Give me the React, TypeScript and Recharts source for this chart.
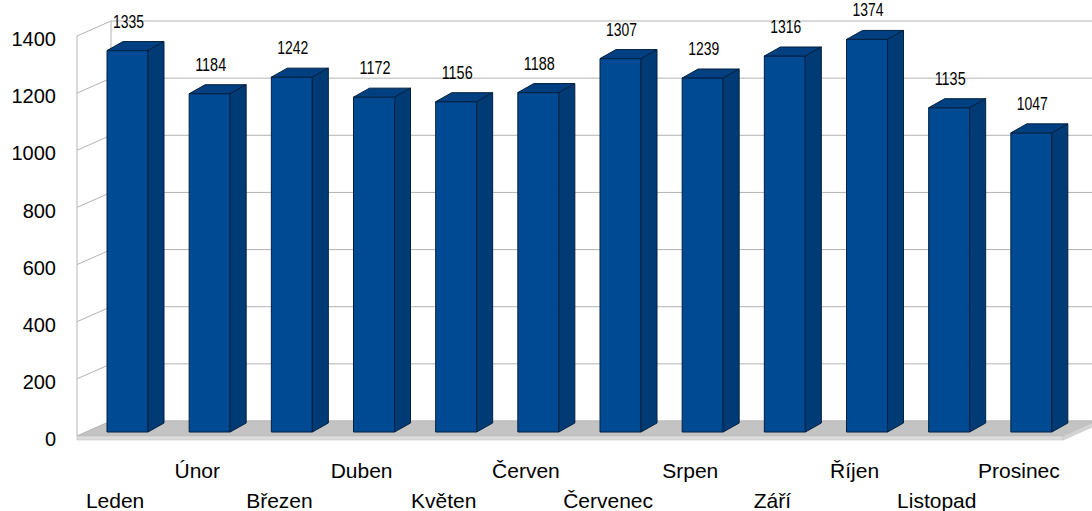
import { BarChart, Bar, XAxis, YAxis, CartesianGrid, LabelList, ReferenceArea } from "recharts"

const months = [
  "Leden",
  "Únor",
  "Březen",
  "Duben",
  "Květen",
  "Červen",
  "Červenec",
  "Srpen",
  "Září",
  "Říjen",
  "Listopad",
  "Prosinec",
]
const values = [1335, 1184, 1242, 1172, 1156, 1188, 1307, 1239, 1316, 1374, 1135, 1047]
const yTicks = [0, 200, 400, 600, 800, 1000, 1200, 1400]

const data = months.map((month, i) => ({ month, value: values[i] }))

const FONT = "'Liberation Sans', Arial, sans-serif"
// depth of the walls and of each bar (3D look)
const WALL = { dx: 34, dy: -15 }
const BAR = { dx: 16, dy: -9, shiftX: 9, shiftY: -4 }

function GridLine(props: any) {
  const { x1, x2, y1 } = props
  const bx = x1 + WALL.dx
  const by = y1 + WALL.dy
  return (
    <g key={props.key}>
      <line x1={x1} y1={y1} x2={bx} y2={by} stroke="#b3b3b3" strokeWidth={1} />
      <line x1={bx} y1={by} x2={x2 + WALL.dx + 40} y2={by} stroke="#b3b3b3" strokeWidth={1} />
    </g>
  )
}

function Walls(props: any) {
  const { x, y, width, height } = props
  const b = y + height
  const r = x + width
  return (
    <g>
      <line x1={x} y1={y} x2={x} y2={b} stroke="#b3b3b3" />
      <line x1={x + WALL.dx} y1={y + WALL.dy} x2={x + WALL.dx} y2={b + WALL.dy} stroke="#b3b3b3" />
      <polygon
        points={`${x},${b} ${x + WALL.dx},${b + WALL.dy} ${r + WALL.dx},${b + WALL.dy} ${r},${b}`}
        fill="#c3c3c3"
        stroke="#b0b0b0"
        strokeWidth={0.6}
      />
      <polygon
        points={`${x},${b} ${r},${b} ${r},${b + 4} ${x},${b + 4}`}
        fill="#dcdcdc"
        stroke="#c4c4c4"
        strokeWidth={0.6}
      />
      <polygon
        points={`${r},${b} ${r + WALL.dx},${b + WALL.dy} ${r + WALL.dx},${b + WALL.dy + 4} ${r},${b + 4}`}
        fill="#d4d4d4"
        stroke="#c4c4c4"
        strokeWidth={0.6}
      />
    </g>
  )
}

function Bar3D(props: any) {
  const { x, y, width, height } = props
  const fx = x + BAR.shiftX
  const fy = y + BAR.shiftY
  const bottom = y + height + BAR.shiftY
  const { dx, dy } = BAR
  return (
    <g stroke="#00203f" strokeWidth={1} strokeLinejoin="round">
      <rect x={fx} y={fy} width={width} height={bottom - fy} fill="#004a93" />
      <polygon
        points={`${fx},${fy} ${fx + dx},${fy + dy} ${fx + width + dx},${fy + dy} ${fx + width},${fy}`}
        fill="#003f80"
      />
      <polygon
        points={`${fx + width},${fy} ${fx + width + dx},${fy + dy} ${fx + width + dx},${bottom + dy} ${fx + width},${bottom}`}
        fill="#003b76"
      />
    </g>
  )
}

function ValueLabel(props: any) {
  const { x, y, width, value } = props
  return (
    <text
      x={x + BAR.shiftX + width / 2 + 1}
      y={y - 27}
      textAnchor="middle"
      fontFamily={FONT}
      fontSize={18}
      textLength={31}
      lengthAdjust="spacingAndGlyphs"
      fill="#000"
    >
      {value}
    </text>
  )
}

function MonthTick(props: any) {
  const { x, y, payload, index } = props
  const upper = index % 2 === 1
  return (
    <text
      x={x - 3}
      y={y + (upper ? 42 : 72)}
      textAnchor="middle"
      fontFamily={FONT}
      fontSize={21}
      fill="#000"
    >
      {payload.value}
    </text>
  )
}

function ValueTick(props: any) {
  const { x, y, payload } = props
  return (
    <text x={x + 1} y={y + 3} dy="0.36em" textAnchor="end" fontFamily={FONT} fontSize={20} fill="#000">
      {payload.value}
    </text>
  )
}

export default function App() {
  return (
    <div
      style={{
        position: "absolute",
        left: 0,
        top: 0,
        width: 1092,
        height: 511,
        overflow: "hidden",
        background: "#fff",
      }}
    >
      <BarChart
        width={1092}
        height={511}
        data={data}
        margin={{ top: 36, right: 29, bottom: 0, left: 0 }}
        barSize={41}
      >
        <CartesianGrid vertical={false} horizontal={(p: any) => <GridLine {...p} />} />
        <ReferenceArea y1={0} y2={1400} ifOverflow="visible" shape={(p: any) => <Walls {...p} />} />
        <XAxis
          dataKey="month"
          interval={0}
          tickLine={false}
          axisLine={false}
          tickSize={0}
          tickMargin={0}
          height={75}
          tick={(p: any) => <MonthTick {...p} />}
        />
        <YAxis
          domain={[0, 1400]}
          ticks={yTicks}
          width={77}
          tickLine={false}
          axisLine={false}
          tickSize={0}
          tickMargin={22}
          tick={(p: any) => <ValueTick {...p} />}
        />
        <Bar dataKey="value" isAnimationActive={false} shape={(p: any) => <Bar3D {...p} />}>
          <LabelList dataKey="value" content={(p: any) => <ValueLabel {...p} />} />
        </Bar>
      </BarChart>
    </div>
  )
}
